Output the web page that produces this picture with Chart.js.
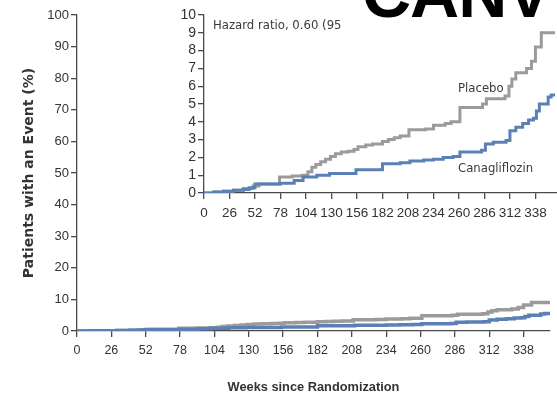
<!DOCTYPE html>
<html>
<head>
<meta charset="utf-8">
<script src="https://cdn.jsdelivr.net/npm/chart.js@4.4.1/dist/chart.umd.min.js"></script>
<style>
  html, body { margin: 0; padding: 0; background: #fff; }
  #wrap { position: relative; width: 557px; height: 396px; overflow: hidden; background: #fff; }
  canvas { position: absolute; left: 0; top: 0; }
  .lbl { position: absolute; white-space: nowrap; font-family: "DejaVu Sans", sans-serif; font-stretch: condensed; color: #3a3a3a; font-size: 13px; line-height: 16px; }
  #canv { position: absolute; left: 362px; top: -41px; font-family: "Liberation Sans", Arial, sans-serif; font-weight: bold; font-size: 68px; line-height: 68px; color: #000; letter-spacing: -1px; white-space: nowrap; }
</style>
</head>
<body>
<div id="wrap">
  <canvas id="main" width="557" height="396"></canvas>
  <canvas id="inset" width="557" height="396"></canvas>
  <div id="canv">CANV</div>
  <div class="lbl" id="hr" style="left:213px; top:17px;">Hazard ratio, 0.60 (95</div>
  <div class="lbl" id="pl" style="left:458px; top:80px;">Placebo</div>
  <div class="lbl" id="ca" style="left:458px; top:160px;">Canagliflozin</div>
</div>
<script>
// ---- data ----
const xTickWeeks = [0, 26, 52, 78, 104, 130, 156, 182, 208, 234, 260, 286, 312, 338];
const mainYTicks = [0, 10, 20, 30, 40, 50, 60, 70, 80, 90, 100];
const insetYTicks = [0, 1, 2, 3, 4, 5, 6, 7, 8, 9, 10];

const placeboWeeks = [0, 10, 20, 30, 40, 50, 56, 77, 90, 100, 106, 110, 114, 119, 124, 129, 134, 140, 147, 153, 157, 165, 172, 182, 188, 194, 200, 209, 226, 234, 246, 252, 261, 284, 288, 307, 311, 314, 318, 329, 334, 338, 344, 358];
const placeboPct   = [0, 0.05, 0.1, 0.15, 0.25, 0.4, 0.5, 0.9, 0.95, 1.0, 1.2, 1.45, 1.6, 1.75, 1.9, 2.05, 2.2, 2.3, 2.35, 2.45, 2.6, 2.7, 2.75, 2.9, 3.0, 3.1, 3.2, 3.55, 3.6, 3.8, 3.9, 4.0, 4.8, 5.0, 5.3, 5.45, 6.0, 6.4, 6.75, 7.0, 7.4, 8.2, 9.0, 9.0];

const canaWeeks = [0, 10, 20, 30, 40, 46, 52, 78, 92, 101, 115, 128, 155, 182, 200, 210, 224, 234, 244, 254, 261, 283, 287, 295, 308, 312, 318, 325, 331, 336, 339, 342, 351, 354, 358];
const canaPct   = [0, 0.05, 0.1, 0.15, 0.2, 0.3, 0.5, 0.55, 0.7, 0.9, 1.0, 1.1, 1.3, 1.65, 1.7, 1.8, 1.85, 1.9, 2.0, 2.05, 2.3, 2.4, 2.75, 2.85, 2.95, 3.5, 3.7, 3.9, 4.1, 4.2, 4.6, 5.0, 5.4, 5.5, 5.5];

const GRAY = '#9b9b9b';
const BLUE = '#5b80b6';
const AXIS = '#4a4a4a';
const TXT = '#333333';
const TICKFAM = '"Liberation Sans", Arial, sans-serif';
const FAM = '"DejaVu Sans", sans-serif';

function pts(xs, ys) { return xs.map((x, i) => ({ x: x, y: ys[i] })); }

function makeChart(id, o) {
  return new Chart(document.getElementById(id), {
    type: 'line',
    data: {
      datasets: [
        { label: 'Canagliflozin', data: pts(canaWeeks, canaPct), borderColor: BLUE, borderWidth: o.lw, stepped: 'before', pointRadius: 0, fill: false },
        { label: 'Placebo', data: pts(placeboWeeks, placeboPct), borderColor: GRAY, borderWidth: o.lw, stepped: 'before', pointRadius: 0, fill: false }
      ]
    },
    options: {
      responsive: false,
      animation: false,
      events: [],
      layout: { padding: { top: o.top, right: o.right, left: 0, bottom: 0 } },
      plugins: { legend: { display: false }, tooltip: { enabled: false } },
      scales: {
        x: {
          type: 'linear', min: 0, max: o.xmax,
          afterBuildTicks: s => { s.ticks = xTickWeeks.map(v => ({ value: v })); },
          afterFit: s => { s.height = o.xh; },
          ticks: { autoSkip: false, maxRotation: 0, padding: o.xpad, color: TXT, font: { family: TICKFAM, size: o.fs } },
          grid: { drawOnChartArea: false, drawTicks: true, tickLength: o.tl, color: AXIS, lineWidth: 1.3 },
          border: { display: true, color: AXIS, width: 1.3 },
          title: o.xtitle ? { display: true, text: 'Weeks since Randomization', color: TXT, font: { family: TICKFAM, size: 12.8, weight: 'bold' }, padding: { top: 0, bottom: 1 } } : { display: false }
        },
        y: {
          type: 'linear', min: 0, max: o.ymax,
          afterBuildTicks: s => { s.ticks = o.yticks.map(v => ({ value: v })); },
          afterFit: s => { s.width = o.yw; },
          ticks: { autoSkip: false, padding: 2, color: TXT, font: { family: TICKFAM, size: o.fsy } },
          grid: { drawOnChartArea: false, drawTicks: true, tickLength: o.tl, color: AXIS, lineWidth: 1.3 },
          border: { display: true, color: AXIS, width: 1.3 },
          title: o.ytitle ? { display: true, text: 'Patients with an Event (%)', color: TXT, font: { family: FAM, size: 14, weight: 'bold' }, padding: { top: 21, bottom: 0 } } : { display: false }
        }
      }
    }
  });
}

makeChart('main', { lw: 3.5, top: 15, right: 7, xmax: 358, ymax: 100, yticks: mainYTicks, xh: 65, yw: 77, fs: 12.5, fsy: 13, tl: 6, xpad: 6, xtitle: true, ytitle: true });
makeChart('inset', { lw: 3, top: 15, right: 0, xmax: 360, ymax: 10, yticks: insetYTicks, xh: 203, yw: 204, fs: 13.5, fsy: 14, tl: 6, xpad: 6, xtitle: false, ytitle: false });
</script>
</body>
</html>
